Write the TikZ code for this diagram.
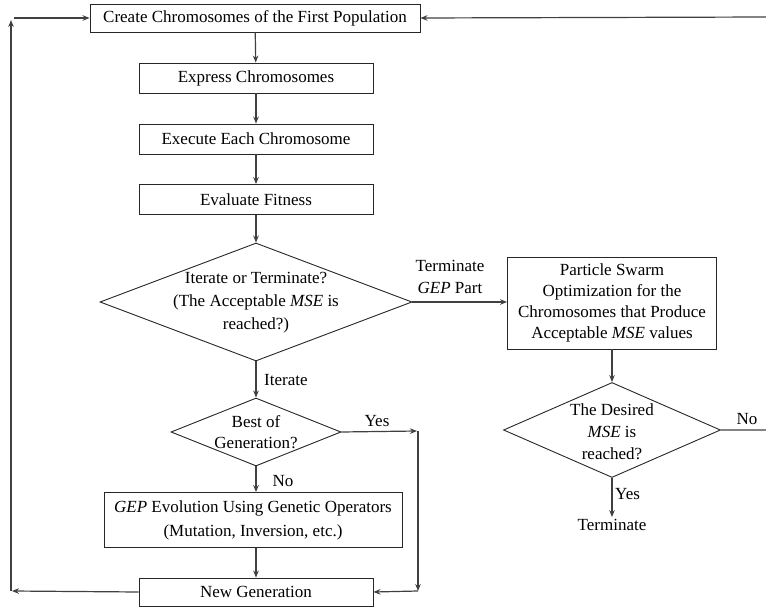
\documentclass[tikz,border=0pt]{standalone}
\usepackage{fontspec}
\setmainfont{Liberation Serif}
\usetikzlibrary{shapes.geometric,arrows.meta}
\begin{document}
\begin{tikzpicture}[x=1pt,y=-1pt,
  font=\fontsize{17}{21.5}\selectfont,
  box/.style={draw=black!85,line width=0.9pt,rectangle,inner sep=0pt,align=center},
  decision/.style={draw=black!85,line width=0.9pt,diamond,inner sep=0pt},
  txt/.style={inner sep=0pt,align=center},
  flow/.style={draw=black!75,line width=1.2pt,-{Stealth[length=7pt,width=5.5pt]}},
  ]
\useasboundingbox (0,0) rectangle (766,607);

% main column
\node[box,minimum width=330,minimum height=28] (c1) at (255,18) {Create Chromosomes of the First Population};
\node[box,minimum width=234,minimum height=30] (c2) at (256,78) {Express Chromosomes};
\node[box,minimum width=234,minimum height=30] (c3) at (256,139) {Execute Each Chromosome};
\node[box,minimum width=234,minimum height=30] (c4) at (256,199.5) {Evaluate Fitness};
\node[decision,minimum width=312,minimum height=118] (d1) at (256,302) {};
\node[txt,font=\fontsize{17}{23}\selectfont] (d1t) at (256,303) {Iterate or Terminate?\\(The Acceptable \textit{MSE} is\\reached?)};
\node[decision,minimum width=170,minimum height=68] (d2) at (256,432) {};
\node[txt] (d2t) at (256,432) {Best of\\Generation?};
\node[box,minimum width=298,minimum height=55,font=\fontsize{17}{24}\selectfont] (c5) at (253,520) {\textit{GEP} Evolution Using Genetic Operators\\(Mutation, Inversion, etc.)};
\node[box,minimum width=234,minimum height=28] (c6) at (256,592) {New Generation};

% right column
\node[box,minimum width=209,minimum height=92,font=\fontsize{17}{21}\selectfont] (p1) at (612,303) {Particle Swarm\\Optimization for the\\Chromosomes that Produce\\Acceptable \textit{MSE} values};
\node[decision,minimum width=217,minimum height=95] (d3) at (612,430) {};
\node[txt,font=\fontsize{17}{22}\selectfont] (d3t) at (612,432) {The Desired\\\textit{MSE} is\\reached?};
\node[txt,inner sep=2pt] (t) at (612,525) {Terminate};

% edge labels
\node[txt] (l1) at (450,277) {Terminate\\\textit{GEP} Part};
\node[txt,anchor=west] (l2) at (264,380) {Iterate};
\node[txt] (l3) at (377,421) {Yes};
\node[txt] (l4) at (283,481) {No};
\node[txt,anchor=west] (l5) at (615,494) {Yes};
\node[txt] (l6) at (747,419) {No};

% loop coordinates
\coordinate (ya) at (418,431);
\coordinate (yb) at (418,591);
\coordinate (la) at (12,591);
\coordinate (lb) at (11,591);
\coordinate (lc) at (11,18);
\coordinate (ld) at (14,18);
\coordinate (ra) at (768,430);
\coordinate (rb) at (768,17);

% connectors
\draw[flow] (c1) -- (c2);
\draw[flow] (c2) -- (c3);
\draw[flow] (c3) -- (c4);
\draw[flow] (c4) -- (d1.north);
\draw[flow] (d1.south) -- (d2.north);
\draw[flow] (d2.south) -- (d2.south |- c5.north);
\draw[flow] (c5.south -| c6) -- (c6.north);
\draw[flow] (d1.east) -- (p1.west |- d1.east);
\draw[flow] (p1) -- (d3.north);
\draw[flow] (d3.south) -- (t.north);
\draw[flow] (d3.east) -- (ra) -- (rb) -- (c1.east);
\draw[flow] (d2.east) -- ([xshift=-1]ya);
\draw[flow] (ya) -- (yb);
\draw[flow] (yb) -- (c6.east);
\draw[flow] (c6.west) -- (la);
\draw[flow] (lb) -- ([yshift=-2]lc);
\draw[flow] (ld) -- (c1.west);
\end{tikzpicture}
\end{document}
